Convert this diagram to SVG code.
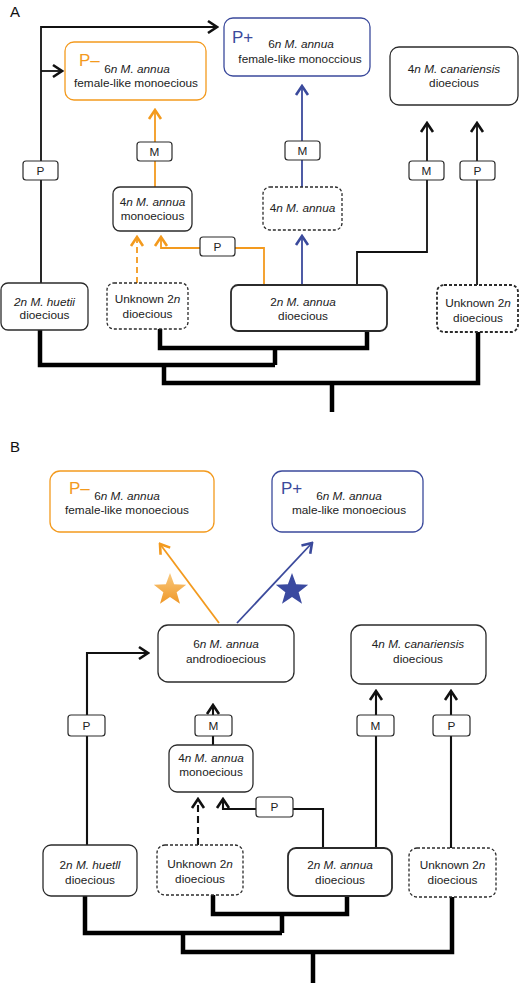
<svg xmlns="http://www.w3.org/2000/svg" width="520" height="983" viewBox="0 0 520 983">
<defs>
<style>
.bg{fill:#fff}
.box{fill:#fff;stroke:#2b2b2b;stroke-width:1.3}
.dash{stroke-dasharray:3 2}
.bold{stroke-width:1.8}
.ob{stroke:#F39A1E}
.bb{stroke:#3B4A9C}
.t{font-family:"Liberation Sans",Arial,sans-serif;font-size:11.8px;fill:#222;text-anchor:middle}
.i{font-style:italic}
.big{font-family:"Liberation Sans",Arial,sans-serif;font-size:17px}
.lab{font-family:"Liberation Sans",Arial,sans-serif;font-size:15px;fill:#111}
.sm{fill:#fff;stroke:#2b2b2b;stroke-width:1.2}
.c{fill:none;stroke:#111;stroke-width:1.8}
.cB{fill:none;stroke:#111;stroke-width:2.1}
.co{fill:none;stroke:#F39A1E;stroke-width:1.8}
.cb{fill:none;stroke:#3B4A9C;stroke-width:1.8}
.tree{fill:none;stroke:#000;stroke-width:4.5;stroke-linejoin:miter;stroke-linecap:butt}
</style>
<marker id="ak" viewBox="-12 -9 14 18" refX="0" refY="0" markerWidth="14" markerHeight="18" markerUnits="userSpaceOnUse" orient="auto">
<path d="M-9,-6 L0,0 L-9,6" fill="none" stroke="#111" stroke-width="2.6"/>
</marker>
<marker id="ao" viewBox="-12 -9 14 18" refX="0" refY="0" markerWidth="14" markerHeight="18" markerUnits="userSpaceOnUse" orient="auto">
<path d="M-9,-6 L0,0 L-9,6" fill="none" stroke="#F39A1E" stroke-width="2.6"/>
</marker>
<marker id="ab" viewBox="-12 -9 14 18" refX="0" refY="0" markerWidth="14" markerHeight="18" markerUnits="userSpaceOnUse" orient="auto">
<path d="M-9,-6 L0,0 L-9,6" fill="none" stroke="#3B4A9C" stroke-width="2.6"/>
</marker>
<linearGradient id="og" x1="0" y1="0" x2="0" y2="1">
<stop offset="0" stop-color="#F9C97E"/>
<stop offset="1" stop-color="#EF9828"/>
</linearGradient>
<polygon id="star" points="0,-17 4.11,-5.66 16.17,-5.25 6.66,2.16 9.99,13.75 0,7 -9.99,13.75 -6.66,2.16 -16.17,-5.25 -4.11,-5.66"/>
</defs>
<rect class="bg" x="0" y="0" width="520" height="983"/>

<!-- ================= PANEL A ================= -->
<text class="lab" x="10" y="17">A</text>

<g id="A-connectors">
<path class="c" d="M41,283 V27 H217" marker-end="url(#ak)"/>
<path class="c" d="M41,71 H62" marker-end="url(#ak)"/>
<path class="co" d="M155,187 V110" marker-end="url(#ao)"/>
<path class="co" d="M137,283 V237" stroke-dasharray="6 4" marker-end="url(#ao)"/>
<path class="co" d="M264,285 V248 H161 V237" marker-end="url(#ao)"/>
<path class="cb" d="M302,285 V236" marker-end="url(#ab)"/>
<path class="cb" d="M302,187 V86" marker-end="url(#ab)"/>
<path class="c" d="M357,285 V252 H427 V123" marker-end="url(#ak)"/>
<path class="c" d="M477,285 V123" marker-end="url(#ak)"/>
<path class="tree" d="M160,329 V348 H367 V331"/>
<path class="tree" d="M275,348 V365"/>
<path class="tree" d="M40,330 V365 H275"/>
<path class="tree" d="M164,365 V383 H478 V332"/>
<path class="tree" d="M332,383 V412"/>
</g>

<g id="A-labels">
<rect class="sm" x="23" y="161" width="35" height="19" rx="3"/><text class="t" x="40.5" y="175">P</text>
<rect class="sm" x="137" y="142" width="35" height="19" rx="3"/><text class="t" x="154.5" y="156">M</text>
<rect class="sm" x="285" y="141" width="35" height="19" rx="3"/><text class="t" x="302.5" y="155">M</text>
<rect class="sm" x="409" y="161" width="35" height="19" rx="3"/><text class="t" x="426.5" y="175">M</text>
<rect class="sm" x="460" y="161" width="35" height="19" rx="3"/><text class="t" x="477.5" y="175">P</text>
<rect class="sm" x="200" y="237" width="35" height="19" rx="3"/><text class="t" x="217.5" y="251">P</text>
</g>

<g id="A-Pminus">
<rect class="box ob" x="65" y="42" width="141" height="58" rx="9"/>
<text class="big" x="79" y="66" fill="#F39A1E">P–</text>
<text class="t" x="137" y="73">6<tspan class="i">n M. annua</tspan></text>
<text class="t" x="136" y="87">female-like monoecious</text>
</g>
<g id="A-Pplus">
<rect class="box bb" x="224" y="18" width="146" height="58" rx="9"/>
<text class="big" x="232" y="43" fill="#3B4A9C">P+</text>
<text class="t" x="301" y="48">6<tspan class="i">n M. annua</tspan></text>
<text class="t" x="300" y="63">female-like monoccious</text>
</g>
<g id="A-canariensis">
<rect class="box" x="390" y="47" width="128" height="58" rx="9"/>
<text class="t" x="454" y="73">4<tspan class="i">n M. canariensis</tspan></text>
<text class="t" x="454" y="87">dioecious</text>
</g>
<g id="A-4n-monoecious">
<rect class="box" x="113" y="187" width="79" height="44" rx="7"/>
<text class="t" x="152.5" y="206">4<tspan class="i">n M. annua</tspan></text>
<text class="t" x="152.5" y="220">monoecious</text>
</g>
<g id="A-4n-annua">
<rect class="box dash" x="263" y="187" width="79" height="43" rx="7"/>
<text class="t" x="302.5" y="212">4<tspan class="i">n M. annua</tspan></text>
</g>
<g id="A-huetii">
<rect class="box" x="1" y="283" width="87" height="47" rx="7"/>
<text class="t" x="44.5" y="306"><tspan class="i">2n M. huetii</tspan></text>
<text class="t" x="44.5" y="319">dioecious</text>
</g>
<g id="A-unknown-left">
<rect class="box dash" x="107" y="283" width="81" height="46" rx="7"/>
<text class="t" x="147.5" y="303">Unknown 2<tspan class="i">n</tspan></text>
<text class="t" x="147.5" y="318">dioecious</text>
</g>
<g id="A-2n-annua">
<rect class="box bold" x="231" y="285" width="156" height="46" rx="7"/>
<text class="t" x="303" y="306">2<tspan class="i">n M. annua</tspan></text>
<text class="t" x="303" y="320">dioecious</text>
</g>
<g id="A-unknown-right">
<rect class="box dash bold" x="437" y="285" width="81" height="47" rx="7"/>
<text class="t" x="478" y="307">Unknown 2<tspan class="i">n</tspan></text>
<text class="t" x="478" y="322">dioecious</text>
</g>

<!-- ================= PANEL B ================= -->
<text class="lab" x="10" y="452">B</text>

<g id="B-connectors">
<path class="co" d="M219,623 L160,544" stroke-width="2" marker-end="url(#ao)"/>
<path class="cb" d="M237,623 L312,543" stroke-width="2" marker-end="url(#ab)"/>
<path class="cB" d="M87,845 V653 H148" marker-end="url(#ak)"/>
<path class="cB" d="M213,745 V705" marker-end="url(#ak)"/>
<path class="cB" d="M198,845 V799" stroke-dasharray="7 4" marker-end="url(#ak)"/>
<path class="cB" d="M323,848 V809 H223 V799" marker-end="url(#ak)"/>
<path class="cB" d="M376,848 V691" marker-end="url(#ak)"/>
<path class="cB" d="M451,848 V691" marker-end="url(#ak)"/>
<path class="tree" d="M213,895 V914 H347 V896"/>
<path class="tree" d="M282,914 V933"/>
<path class="tree" d="M85,896 V933 H282"/>
<path class="tree" d="M183,933 V952 H452 V897"/>
<path class="tree" d="M313,952 V983"/>
</g>

<g id="B-stars">
<use href="#star" x="170" y="590" fill="url(#og)"/>
<use href="#star" x="292" y="590" fill="#3B4AA0"/>
</g>

<g id="B-labels">
<rect class="sm" x="68" y="715" width="37" height="21" rx="3"/><text class="t" x="86.5" y="730">P</text>
<rect class="sm" x="195" y="715" width="37" height="21" rx="3"/><text class="t" x="213.5" y="730">M</text>
<rect class="sm" x="357" y="715" width="37" height="21" rx="3"/><text class="t" x="375.5" y="730">M</text>
<rect class="sm" x="433" y="715" width="37" height="21" rx="3"/><text class="t" x="451.5" y="730">P</text>
<rect class="sm" x="256" y="797" width="37" height="20" rx="3"/><text class="t" x="274.5" y="811">P</text>
</g>

<g id="B-Pminus">
<rect class="box ob" x="50" y="471" width="164" height="61" rx="10"/>
<text class="big" x="69" y="494" fill="#F39A1E">P–</text>
<text class="t" x="127" y="500">6<tspan class="i">n M. annua</tspan></text>
<text class="t" x="127" y="514">female-like monoecious</text>
</g>
<g id="B-Pplus">
<rect class="box bb" x="272" y="471" width="151" height="61" rx="10"/>
<text class="big" x="281" y="494" fill="#3B4A9C">P+</text>
<text class="t" x="349" y="500">6<tspan class="i">n M. annua</tspan></text>
<text class="t" x="349" y="514">male-like monoecious</text>
</g>
<g id="B-6n-androdioecious">
<rect class="box" x="158" y="625" width="136" height="57" rx="10"/>
<text class="t" x="226" y="648">6<tspan class="i">n M. annua</tspan></text>
<text class="t" x="226" y="663">androdioecious</text>
</g>
<g id="B-canariensis">
<rect class="box" x="351" y="625" width="135" height="59" rx="10"/>
<text class="t" x="418" y="648">4<tspan class="i">n M. canariensis</tspan></text>
<text class="t" x="418" y="663">dioecious</text>
</g>
<g id="B-4n-monoecious">
<rect class="box" x="169" y="745" width="84" height="47" rx="8"/>
<text class="t" x="211" y="762">4<tspan class="i">n M. annua</tspan></text>
<text class="t" x="211" y="776">monoecious</text>
</g>
<g id="B-huetll">
<rect class="box" x="43" y="845" width="94" height="51" rx="8"/>
<text class="t" x="90" y="869">2<tspan class="i">n M. huetll</tspan></text>
<text class="t" x="90" y="884">dioecious</text>
</g>
<g id="B-unknown-left">
<rect class="box dash" x="157" y="845" width="86" height="50" rx="8"/>
<text class="t" x="200" y="868">Unknown 2<tspan class="i">n</tspan></text>
<text class="t" x="200" y="883">dioecious</text>
</g>
<g id="B-2n-annua">
<rect class="box bold" x="288" y="848" width="104" height="48" rx="8"/>
<text class="t" x="340" y="869">2<tspan class="i">n M. annua</tspan></text>
<text class="t" x="340" y="884">dioecious</text>
</g>
<g id="B-unknown-right">
<rect class="box dash" x="409" y="848" width="87" height="49" rx="8"/>
<text class="t" x="452.5" y="869">Unknown 2<tspan class="i">n</tspan></text>
<text class="t" x="452.5" y="884">dioecious</text>
</g>
</svg>
